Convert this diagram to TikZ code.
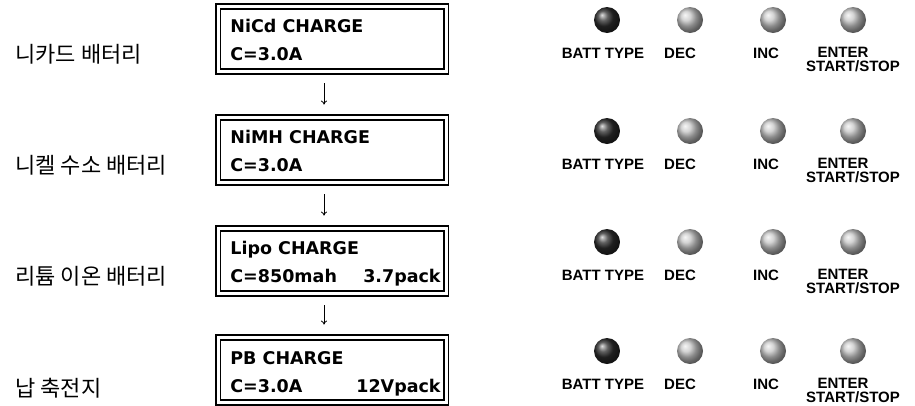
\documentclass[tikz,border=0pt]{standalone}
\usepackage{fontspec}
\newfontfamily\lcdfont{DejaVu Sans}
\newfontfamily\krfont{Noto Sans CJK KR}
\newfontfamily\btnfont{Liberation Sans}
\usetikzlibrary{arrows.meta}
\begin{document}
\begin{tikzpicture}[x=1pt, y=-1pt, >={To[length=4pt,width=6pt]}, line width=0.8pt,
	lcd/.style={draw, double, line width=1.8pt, double distance=3pt, minimum width=228pt, minimum height=65pt, inner sep=0pt},
	lcdtext/.style={anchor=base west, inner sep=0pt, font=\lcdfont\bfseries\fontsize{17.5}{20}\selectfont},
	lcdright/.style={lcdtext, anchor=base east},
	kor/.style={anchor=base west, inner sep=0pt, font=\krfont\fontsize{22}{24}\selectfont},
	btn/.style={circle, minimum size=26pt, inner sep=0pt, shading=ball, ball color=gray!45},
	btnon/.style={btn, ball color=gray!35!black},
	btnlabel/.style={anchor=base, inner sep=0pt, font=\btnfont\bfseries\fontsize{15}{15}\selectfont},
	nextarrow/.style={->, shorten <=11pt, shorten >=12pt}]
	% 0. 画布
	\useasboundingbox (0,0) rectangle (915,405);
	
	% 1. 液晶框
	\node[lcd] (nicd) at (332,39) {};
	\node[lcd] (nimh) at (332,150) {};
	\node[lcd] (lipo) at (332,261) {};
	\node[lcd] (pb) at (332,370) {};
	
	% 2. 液晶文字
	\node[lcdtext] (nicd1) at (230,32) {NiCd CHARGE};
	\node[lcdtext] (nicd2) at (230,60) {C=3.0A};
	\node[lcdtext] (nimh1) at (230,143) {NiMH CHARGE};
	\node[lcdtext] (nimh2) at (230,171) {C=3.0A};
	\node[lcdtext] (lipo1) at (230,254) {Lipo CHARGE};
	\node[lcdtext] (lipo2) at (230,282) {C=850mah};
	\node[lcdright] (lipo3) at (441,282) {3.7pack};
	\node[lcdtext] (pb1) at (230,364) {PB CHARGE};
	\node[lcdtext] (pb2) at (230,392) {C=3.0A};
	\node[lcdright] (pb3) at (441,392) {12Vpack};
	
	% 3. 箭头
	\draw[nextarrow] ([xshift=-8pt]nicd.south) -- ([xshift=-8pt]nimh.north);
	\draw[nextarrow] ([xshift=-8pt]nimh.south) -- ([xshift=-8pt]lipo.north);
	\draw[nextarrow] ([xshift=-8pt]lipo.south) -- ([xshift=-8pt]pb.north);
	
	% 4. 左侧标签
	\node[kor] (k1) at (15,62) {니카드 배터리};
	\node[kor] (k2) at (15,173) {니켈 수소 배터리};
	\node[kor] (k3) at (15,284) {리튬 이온 배터리};
	\node[kor] (k4) at (15,396) {납 축전지};
	
	% 5. 按键
	\foreach \i/\y in {1/20, 2/131, 3/242, 4/351} {
		\node[btnon] (type\i) at (607,\y) {};
		\node[btn] (dec\i) at (690,\y) {};
		\node[btn] (inc\i) at (773,\y) {};
		\node[btn] (enter\i) at (853,\y) {};
		\node[btnlabel] (typel\i) at (603,\y+38) {BATT TYPE};
		\node[btnlabel] (decl\i) at (680,\y+38) {DEC};
		\node[btnlabel] (incl\i) at (766,\y+38) {INC};
		\node[btnlabel] (enterl\i) at (843,\y+37) {ENTER};
		\node[btnlabel] (stopl\i) at (853,\y+51) {START/STOP};
	}
\end{tikzpicture}
\end{document}
